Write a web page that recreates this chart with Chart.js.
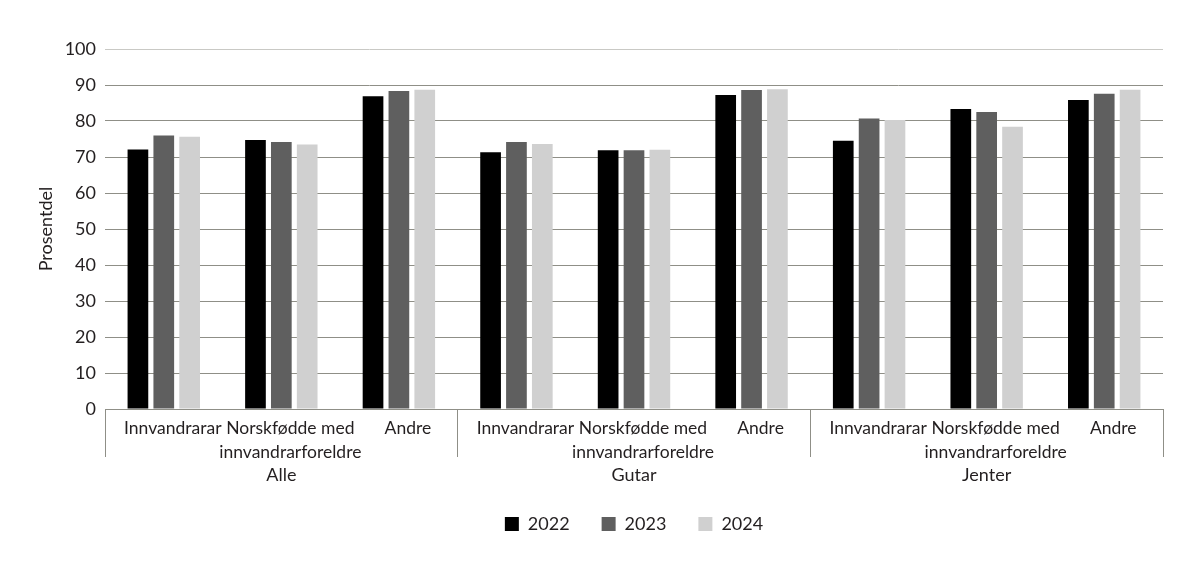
<!DOCTYPE html>
<html>
<head>
<meta charset="utf-8">
<script src="https://cdn.jsdelivr.net/npm/chart.js@4/dist/chart.umd.min.js"></script>
<style>
    html, body { margin: 0; padding: 0; background: #ffffff; }
    #wrap { width: 1198px; height: 568px; position: relative; }
</style>
</head>
<body>
<div id="wrap"><canvas id="barChart"></canvas></div>
<script>
// ==========================================
// DATA
// ==========================================

const years = ["2022", "2023", "2024"];

const groups = ["Alle", "Gutar", "Jenter"];

const categories = [
    "Innvandrarar", ["Norskfødde med", "innvandrarforeldre"], "Andre",
    "Innvandrarar", ["Norskfødde med", "innvandrarforeldre"], "Andre",
    "Innvandrarar", ["Norskfødde med", "innvandrarforeldre"], "Andre"
];

const values2022 = [72.1, 74.7, 86.9, 71.3, 71.9, 87.2, 74.5, 83.3, 85.8];
const values2023 = [76.0, 74.2, 88.3, 74.2, 71.9, 88.6, 80.7, 82.5, 87.6];
const values2024 = [75.6, 73.5, 88.7, 73.6, 72.0, 88.8, 80.3, 78.4, 88.7];

const yTicks = [0, 10, 20, 30, 40, 50, 60, 70, 80, 90, 100];

const barColors = ["#000000", "#5f5f5f", "#d0d0d0"];

// ==========================================
// CHART
// ==========================================

const FONT = "Lato, 'Open Sans', sans-serif";
const TEXT = "#231f20";
const GRID = "#8f8f87";

new Chart(document.getElementById("barChart"), {

    type: "bar",

    data: {

        labels: categories,

        datasets: [values2022, values2023, values2024].map(function (vals, i) {
            return {
                label: years[i],
                data: vals,
                backgroundColor: barColors[i],
                borderWidth: 0,
                categoryPercentage: 0.66,
                barPercentage: 0.8,
            };
        })

    },

    options: {

        responsive: true,
        maintainAspectRatio: false,
        animation: false,
        devicePixelRatio: 1,

        layout: {
            padding: { top: 49, left: 31, right: 35, bottom: 25 }
        },

        plugins: {

            tooltip: { enabled: false },

            legend: {
                position: "bottom",
                fullSize: false,
                labels: {
                    boxWidth: 14,
                    boxHeight: 14,
                    padding: 32,
                    color: TEXT,
                    font: { family: FONT, size: 18 }
                }
            }

        },

        scales: {

            x: {
                position: "bottom",
                offset: true,
                grid: {
                    offset: true,
                    drawOnChartArea: false,
                    drawTicks: true,
                    tickLength: 48,
                    color: function (ctx) {
                        if (ctx.index === undefined || ctx.index % 3 === 0) return GRID;
                        return "rgba(0,0,0,0)";
                    }
                },
                border: { display: true, color: GRID, width: 1 },
                ticks: {
                    autoSkip: false,
                    maxRotation: 0,
                    minRotation: 0,
                    padding: -41,
                    labelOffset: 9,
                    color: TEXT,
                    font: { family: FONT, size: 17.5, lineHeight: 1.3714 }
                },
                afterFit: function (scale) { scale.height = 53; }
            },

            x2: {
                type: "category",
                position: "bottom",
                labels: groups,
                offset: true,
                grid: { display: false, drawTicks: false },
                border: { display: false },
                ticks: {
                    padding: 1,
                    color: TEXT,
                    font: { family: FONT, size: 18, lineHeight: 1.3334 }
                },
                afterFit: function (scale) { scale.height = 21; }
            },

            y: {
                min: 0,
                max: 100,
                afterBuildTicks: function (scale) {
                    scale.ticks = yTicks.map(function (v) { return { value: v }; });
                },
                grid: {
                    drawTicks: false,
                    color: function (ctx) {
                        return ctx.tick && ctx.tick.value === 100 ? "#c9c9c5" : GRID;
                    }
                },
                border: { display: false },
                ticks: {
                    padding: 9,
                    color: TEXT,
                    font: { family: FONT, size: 18 }
                },
                title: {
                    display: true,
                    text: "Prosentdel",
                    color: TEXT,
                    font: { family: FONT, size: 18 }
                },
                afterFit: function (scale) { scale.width = 74; }
            }

        }

    }

});
</script>
</body>
</html>
